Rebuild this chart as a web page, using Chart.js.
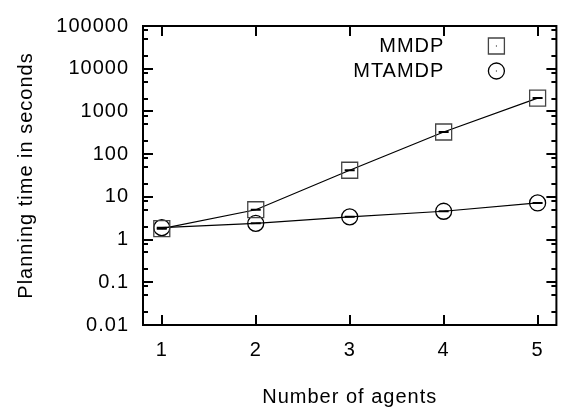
<!DOCTYPE html>
<html>
<head>
<meta charset="utf-8">
<script src="https://cdn.jsdelivr.net/npm/chart.js@4"></script>
<style>
html,body{margin:0;padding:0;background:#fff;}
#wrap{width:569px;height:410px;}
</style>
</head>
<body>
<div id="wrap"><canvas id="c" width="569" height="410"></canvas></div>
<script>
// ---- values ----
const agents = [1, 2, 3, 4, 5];
const mmdpTime = [1.8, 5.0, 42, 330, 2050];
const mtamdpTime = [1.9, 2.4, 3.4, 4.6, 7.2];
const seriesNames = ['MMDP', 'MTAMDP'];
const xTickValues = [1, 2, 3, 4, 5];
const yTickValues = [0.01, 0.1, 1, 10, 100, 1000, 10000, 100000];
const yTickLabels = ['0.01', '0.1', '1', '10', '100', '1000', '10000', '100000'];
const yMinorSteps = [2, 5, 8];

const FONT = {family: '"Liberation Sans", Arial, sans-serif', size: 20};
const FONT_CSS = '20px "Liberation Sans", Arial, sans-serif';

function points(ys) {
  return agents.map((a, i) => ({x: a, y: ys[i]}));
}

// gnuplot-ish text is wide, add a little spacing
const spacingPlugin = {
  id: 'spacing',
  beforeDraw(chart) {
    chart.ctx.letterSpacing = '1px';
  }
};

// frame with inward ticks on all four sides
const framePlugin = {
  id: 'frame',
  afterDatasetsDraw(chart) {
    const {ctx, chartArea: a, scales: {x, y}} = chart;
    ctx.save();
    ctx.strokeStyle = '#000';
    ctx.lineWidth = 2;
    ctx.strokeRect(a.left, a.top, a.right - a.left, a.bottom - a.top);
    ctx.beginPath();
    xTickValues.forEach(v => {
      const px = Math.round(x.getPixelForValue(v));
      ctx.moveTo(px, a.bottom); ctx.lineTo(px, a.bottom - 10);
      ctx.moveTo(px, a.top); ctx.lineTo(px, a.top + 10);
    });
    yTickValues.forEach(v => {
      const py = Math.round(y.getPixelForValue(v));
      ctx.moveTo(a.left, py); ctx.lineTo(a.left + 10, py);
      ctx.moveTo(a.right, py); ctx.lineTo(a.right - 10, py);
      yMinorSteps.forEach(m => {
        const mv = v * m;
        if (mv >= y.max) return;
        const pm = Math.round(y.getPixelForValue(mv));
        ctx.moveTo(a.left, pm); ctx.lineTo(a.left + 5, pm);
        ctx.moveTo(a.right, pm); ctx.lineTo(a.right - 5, pm);
      });
    });
    ctx.stroke();
    ctx.restore();
  }
};

// key in the top right corner: text first, symbol after it
const keyPlugin = {
  id: 'key',
  afterDraw(chart) {
    const {ctx, chartArea: a} = chart;
    ctx.save();
    ctx.font = FONT_CSS;
    ctx.fillStyle = '#000';
    ctx.textAlign = 'right';
    ctx.textBaseline = 'middle';
    seriesNames.forEach((name, i) => {
      const ty = a.top + 20 + i * 25;
      ctx.fillText(name, a.right - 112, ty);
      const mx = a.right - 60;
      ctx.lineWidth = 1.3;
      ctx.strokeStyle = i === 0 ? '#444' : '#000';
      ctx.beginPath();
      if (i === 0) ctx.rect(mx - 8, ty - 8, 16, 16);
      else ctx.arc(mx, ty, 8, 0, Math.PI * 2);
      ctx.stroke();
      ctx.fillRect(mx - 0.5, ty - 0.5, 1, 1);
    });
    ctx.restore();
  }
};

new Chart(document.getElementById('c'), {
  type: 'line',
  data: {
    datasets: [
      {
        label: seriesNames[0],
        data: points(mmdpTime),
        borderColor: '#000',
        borderWidth: 1.2,
        pointStyle: 'rect',
        pointRadius: 11.3,
        pointBorderColor: '#444',
        pointBackgroundColor: 'rgba(0,0,0,0)',
        pointBorderWidth: 1.3
      },
      {
        label: seriesNames[1],
        data: points(mtamdpTime),
        borderColor: '#000',
        borderWidth: 1.2,
        pointStyle: 'circle',
        pointRadius: 8,
        pointBorderColor: '#000',
        pointBackgroundColor: 'rgba(0,0,0,0)',
        pointBorderWidth: 1.3
      },
      // small error-bar caps inside the symbols
      {
        label: '',
        data: points(mmdpTime),
        showLine: false,
        pointStyle: 'line',
        pointRadius: 5,
        pointBorderWidth: 2,
        pointBorderColor: '#000'
      },
      {
        label: '',
        data: points(mtamdpTime),
        showLine: false,
        pointStyle: 'line',
        pointRadius: 5,
        pointBorderWidth: 2,
        pointBorderColor: '#000'
      }
    ]
  },
  options: {
    responsive: false,
    animation: false,
    devicePixelRatio: 1,
    layout: {padding: {left: 0, right: 6, top: 13, bottom: 0}},
    plugins: {legend: {display: false}, tooltip: {enabled: false}},
    scales: {
      x: {
        type: 'linear',
        min: 0.8,
        max: 5.2,
        grid: {display: false, drawTicks: false},
        border: {display: false},
        afterFit: s => { s.height = 85; },
        afterBuildTicks: s => { s.ticks = xTickValues.map(v => ({value: v})); },
        ticks: {
          padding: 13, color: '#000', font: FONT,
          autoSkip: false, maxRotation: 0,
          callback: v => String(v)
        },
        title: {
          display: true, text: 'Number of agents', color: '#000', font: FONT,
          padding: {top: 0, bottom: 1}
        }
      },
      y: {
        type: 'logarithmic',
        min: 0.01,
        max: 100000,
        grid: {display: false, drawTicks: false},
        border: {display: false},
        afterFit: s => { s.width = 143; },
        afterBuildTicks: s => { s.ticks = yTickValues.map(v => ({value: v})); },
        ticks: {
          padding: 14, color: '#000', font: FONT, autoSkip: false,
          callback: v => {
            const i = yTickValues.indexOf(v);
            return i < 0 ? '' : yTickLabels[i];
          }
        },
        title: {
          display: true, text: 'Planning time in seconds', color: '#000', font: FONT,
          padding: {top: 14, bottom: 0}
        }
      }
    }
  },
  plugins: [spacingPlugin, framePlugin, keyPlugin]
});
</script>
</body>
</html>
